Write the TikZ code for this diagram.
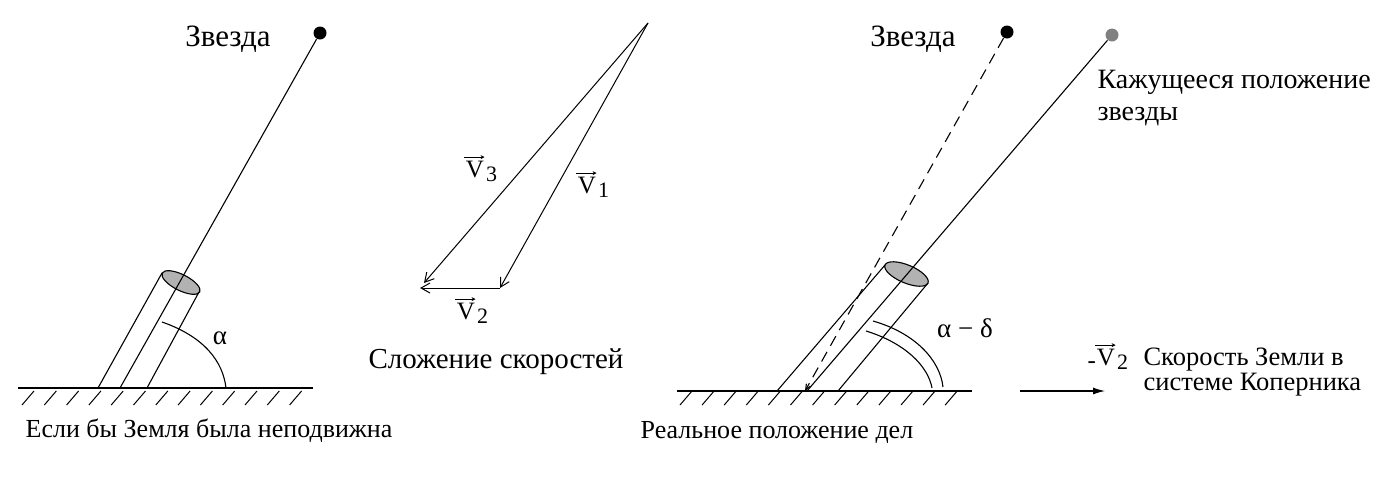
\RequirePackage{fix-cm}
\documentclass[tikz,border=0pt]{standalone}
\usepackage{fontspec}
\setmainfont{Liberation Serif}
\usepackage{tikz}
\usetikzlibrary{arrows,arrows.meta}
\usetikzlibrary{backgrounds}
\usepackage{amsmath}

\begin{document}
\begin{tikzpicture}[x=1pt,y=-1pt,line width=1.1pt]
      \tikzstyle{every node}=[font=\fontsize{27}{31}\selectfont,inner sep=0pt]
      \tikzstyle{stardot}=[circle,fill=black,minimum size=13pt]
      \tikzstyle{ground}=[line width=1.6pt]
      \tikzstyle{hatch}=[line width=1pt]
      \tikzstyle{lens}=[fill=gray!60,line width=1.1pt]
      \tikzstyle{vec}=[line width=1pt,-{Straight Barb[length=9pt,width=10pt]}]
      \tikzstyle{vname}=[font=\fontsize{25}{28}\selectfont]
      \tikzstyle{vidx}=[font=\fontsize{22}{24}\selectfont,anchor=base west,yshift=-4pt,xshift=1pt]
      \tikzstyle{overarrow}=[line width=0.8pt,-{Stealth[length=4pt,width=4pt]},shorten <=-1pt]
      \useasboundingbox (0,0) rectangle (1390,480);

      % Earth at rest
      \node[stardot] (s1) at (320,33) {};
      \node[anchor=base,font=\fontsize{31}{34}\selectfont] (zv1) at (228,46) {Звезда};
      \coordinate (g1l) at (18,388);
      \coordinate (g1r) at (313,388);
      \coordinate (f1) at (120,388);
      \coordinate (a1) at (98,388);
      \coordinate (a1t) at (162,273);
      \coordinate (b1) at (147,388);
      \coordinate (b1t) at (199,292);
      \draw[ground] (g1l) -- (g1r);
      \foreach \i in {0,...,12}
        \draw[hatch] (22+22.3*\i,405) -- ++(12,-14);
      \draw[lens,rotate around={-26.6:(181,282.5)}] (181,282.5) ellipse (21 and 8);
      \draw (a1) -- (a1t);
      \draw (b1) -- (b1t);
      \draw (s1) -- (f1);
      \draw (162,322) .. controls (205,337) and (223,362) .. (226,388);
      \node (al1) at (220,338) {α};
      \node[anchor=base,font=\fontsize{26}{30}\selectfont] (t1) at (209,437) {Если бы Земля была неподвижна};

      % addition of velocities
      \coordinate (o) at (648,23);
      \coordinate (p1) at (500,288);
      \coordinate (p2) at (420,288);
      \coordinate (p3) at (424,283);
      \draw[vec] (o) -- (p1);
      \draw[vec] (o) -- (p3);
      \draw[vec] (p1) -- (p2);
      \node[vname] (v3) at (475,169) {V};
      \node[vidx] (v3i) at (v3.base east) {3};
      \draw[overarrow] ([yshift=3pt]v3.north west) -- ([yshift=3pt]v3.north east);
      \node[vname] (v1) at (587,185) {V};
      \node[vidx] (v1i) at (v1.base east) {1};
      \draw[overarrow] ([yshift=3pt]v1.north west) -- ([yshift=3pt]v1.north east);
      \node[vname] (v2) at (466,311) {V};
      \node[vidx] (v2i) at (v2.base east) {2};
      \draw[overarrow] ([yshift=3pt]v2.north west) -- ([yshift=3pt]v2.north east);
      \node[anchor=base,font=\fontsize{29}{33}\selectfont] (t2) at (496,368) {Сложение скоростей};

      % real position
      \node[stardot] (s2) at (1007,32) {};
      \node[stardot,fill=gray] (s3) at (1112,35) {};
      \node[anchor=base,font=\fontsize{31}{34}\selectfont] (zv2) at (913,46) {Звезда};
      \node[anchor=base west,font=\fontsize{28}{32}\selectfont] (k1) at (1097,88) {Кажущееся положение};
      \node[anchor=base west,font=\fontsize{28}{32}\selectfont] (k2) at (1097,120) {звезды};
      \coordinate (g2l) at (677,391);
      \coordinate (g2r) at (972,391);
      \coordinate (f2) at (807,391);
      \coordinate (d2) at (805,391);
      \coordinate (a2) at (777,391);
      \coordinate (a2t) at (885,265);
      \coordinate (b2) at (838,391);
      \coordinate (b2t) at (928,283);
      \draw[ground] (g2l) -- (g2r);
      \foreach \i in {0,...,12}
        \draw[hatch] (680+22.1*\i,405) -- ++(12,-14);
      \draw[lens,rotate around={-22.7:(906.5,274)}] (906.5,274) ellipse (23.3 and 9);
      \draw (a2) -- (a2t);
      \draw (b2) -- (b2t);
      \draw (s3) -- (f2);
      \draw[dash pattern=on 11pt off 7pt,-angle 45] (s2) -- (d2);
      \draw (873,321) .. controls (915,333) and (940,360) .. (943,387);
      \draw (866,331) .. controls (905,343) and (928,366) .. (932,388);
      \node (ad) at (965,328) {α − δ};
      \node[anchor=base,font=\fontsize{26}{30}\selectfont] (t3) at (777,438) {Реальное положение дел};

      % Earth velocity
      \coordinate (va) at (1020,391);
      \coordinate (vb) at (1105,391);
      \draw[-{Latex[length=12pt,width=7pt]}] (va) -- (vb);
      \node[vname] (mv2) at (1106,357) {V};
      \node[vidx] (mv2i) at (mv2.base east) {2};
      \node[vname,anchor=base east,yshift=-3pt] (mv2m) at (mv2.base west) {-};
      \draw[overarrow] ([yshift=3pt]mv2.north west) -- ([yshift=3pt]mv2.north east);
      \node[anchor=base west,font=\fontsize{26.5}{30}\selectfont] (e1) at (1143,365) {Скорость Земли в};
      \node[anchor=base west,font=\fontsize{26.5}{30}\selectfont] (e2) at (1143,390) {системе Коперника};
\end{tikzpicture}
\end{document}
